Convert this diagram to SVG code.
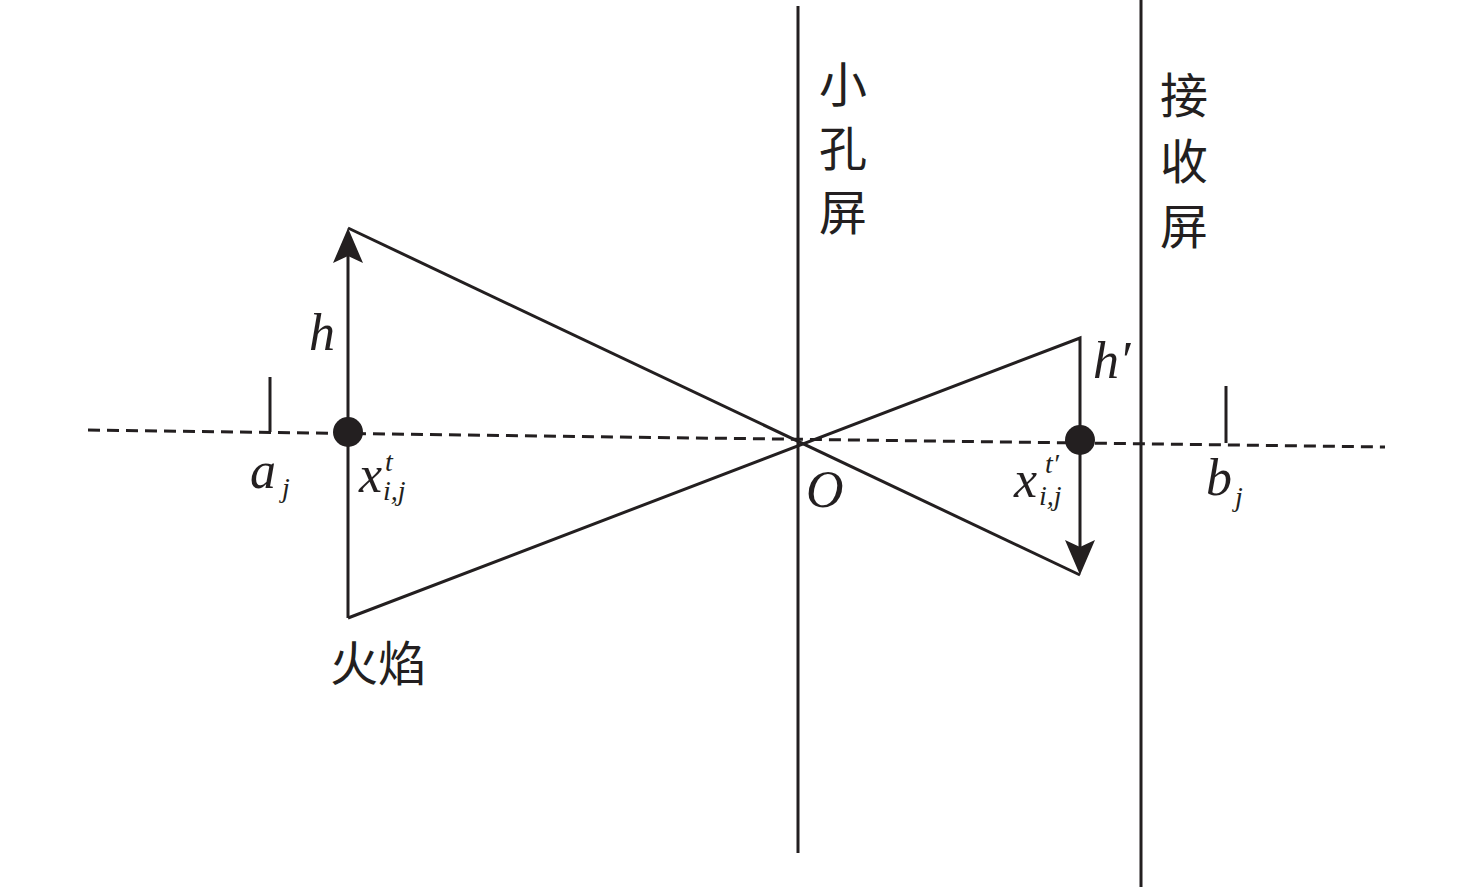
<svg xmlns="http://www.w3.org/2000/svg" width="1476" height="887" viewBox="0 0 1476 887">
<style>
.l{stroke:#231f20;stroke-width:3;fill:none}
.d{stroke:#231f20;stroke-width:3;fill:none;stroke-dasharray:12 7}
.m{font-family:"Liberation Serif",serif;font-style:italic;fill:#231f20;font-size:52px}
.s{font-size:28px}
.c{font-family:"Noto Sans CJK SC",serif;fill:#231f20;font-size:48px}
</style>
<defs>
<marker id="ah" viewBox="0 0 35 30" refX="7" refY="15" markerWidth="35" markerHeight="30" markerUnits="userSpaceOnUse" orient="auto">
<path d="M35 15 L0 0 L7 15 L0 30 Z" fill="#231f20"/>
</marker>
</defs>
<g id="connectors">
<line class="d" x1="88" y1="430" x2="1385" y2="447"/>
<line class="l" x1="798" y1="6" x2="798" y2="853"/>
<line class="l" x1="1141" y1="0" x2="1141" y2="887"/>
<line class="l" x1="348" y1="618" x2="348" y2="256" marker-end="url(#ah)"/>
<polyline class="l" points="348,618 1080,338 1080,547" marker-end="url(#ah)"/>
<polyline class="l" points="348,228 1080,575"/>
<line class="l" x1="270" y1="377" x2="270" y2="432"/>
<line class="l" x1="1226" y1="386" x2="1226" y2="443"/>
</g>
<g id="flame-point"><circle cx="348" cy="432" r="15" fill="#231f20"/></g>
<g id="image-point"><circle cx="1080" cy="440" r="15" fill="#231f20"/></g>
<g id="labels">
<text class="m" x="309" y="350">h</text>
<text class="m" x="1093" y="378">h′</text>
<text class="m" x="250" y="488">a<tspan class="s" x="282" y="497">j</tspan></text>
<text class="m" x="359" y="492">x<tspan class="s" x="385" y="471">t</tspan><tspan class="s" x="383" y="500">i,j</tspan></text>
<text class="m" x="1014" y="497">x<tspan class="s" x="1045" y="473">t′</tspan><tspan class="s" x="1039" y="505">i,j</tspan></text>
<text class="m" x="806" y="507">O</text>
<text class="m" x="1206" y="495">b<tspan class="s" x="1235" y="506">j</tspan></text>
</g>
<g id="pinhole-screen-label">
<text class="c" x="819" y="102">小<tspan x="819" y="166">孔</tspan><tspan x="819" y="230">屏</tspan></text>
</g>
<g id="receive-screen-label">
<text class="c" x="1160" y="113">接<tspan x="1160" y="179">收</tspan><tspan x="1160" y="244">屏</tspan></text>
</g>
<g id="flame-label"><text class="c" x="330" y="681" font-size="50">火焰</text></g>
</svg>
